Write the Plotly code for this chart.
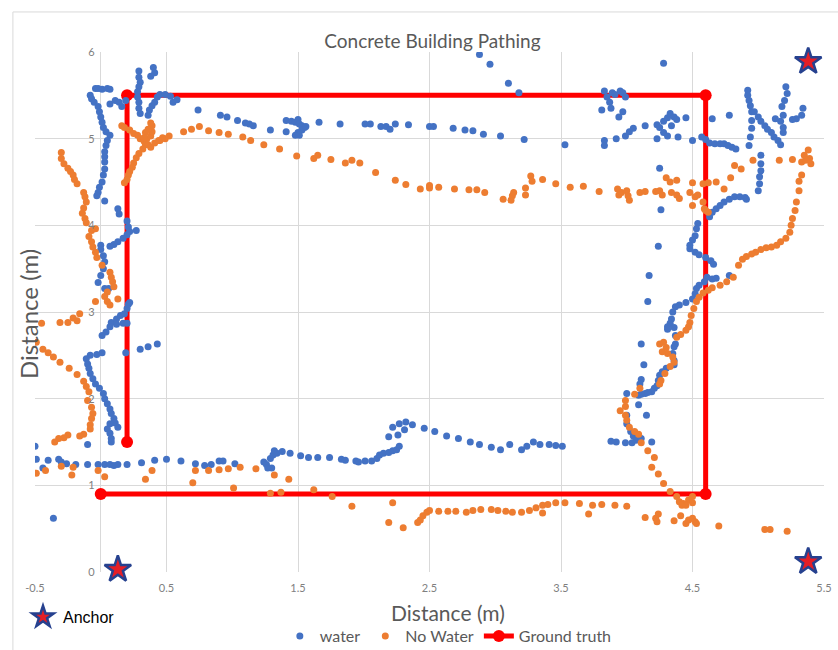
import plotly.graph_objects as go

# ---- measured positions (metres) ----
water_points = [
    # left wall, upper part
    (-0.04, 5.58), (-0.02, 5.58), (0.01, 5.57), (0.05, 5.58), (0.07, 5.57),
    (-0.08, 5.50), (-0.07, 5.46), (-0.05, 5.42), (-0.02, 5.37), (-0.01, 5.31), (0.00, 5.25),
    (0.01, 5.19), (0.02, 5.13), (0.04, 5.08), (0.07, 5.04), (0.05, 4.98), (0.04, 4.92),
    (0.03, 4.85), (0.03, 4.79), (0.03, 4.73), (0.03, 4.65), (0.02, 4.58), (0.01, 4.50),
    (-0.01, 4.44), (-0.02, 4.38), (-0.03, 4.34), (0.03, 4.28), (0.13, 4.19), (0.14, 4.13),
    (0.07, 5.40), (0.11, 5.44), (0.14, 5.42), (0.16, 5.37), (0.19, 5.44),
    (0.29, 5.78), (0.29, 5.71), (0.30, 5.65), (0.29, 5.60), (0.28, 5.54), (0.28, 5.48),
    (0.29, 5.42), (0.29, 5.35), (0.30, 5.29),
    (0.36, 5.27), (0.37, 5.33), (0.39, 5.38), (0.41, 5.42), (0.43, 5.48), (0.45, 5.51),
    (0.49, 5.51), (0.53, 5.49), (0.55, 5.42), (0.58, 5.45),
    (0.40, 5.82), (0.41, 5.76), (0.38, 5.72),
    # top wall
    (0.74, 5.33), (0.91, 5.27), (0.96, 5.25), (1.04, 5.21), (1.10, 5.18), (1.13, 5.17),
    (1.16, 5.15), (1.29, 5.10), (1.41, 5.21), (1.41, 5.08), (1.45, 5.20), (1.48, 5.19),
    (1.50, 5.22), (1.51, 5.17), (1.53, 5.15), (1.55, 5.13), (1.53, 5.10), (1.50, 5.07),
    (1.48, 5.04), (1.51, 5.04), (1.56, 5.14), (1.66, 5.19), (1.82, 5.17), (2.01, 5.17),
    (2.05, 5.17), (2.13, 5.14), (2.17, 5.14), (2.20, 5.11), (2.24, 5.17), (2.34, 5.16),
    (2.50, 5.14), (2.53, 5.14), (2.68, 5.12), (2.77, 5.10), (2.83, 5.09), (2.91, 5.05),
    (3.04, 5.03), (3.22, 4.99), (3.53, 4.93),
    (2.88, 5.97), (2.96, 5.86), (3.10, 5.64), (3.18, 5.53), (4.28, 5.87),
    # top-right corner
    (3.83, 5.55), (3.85, 5.48), (3.89, 5.53), (3.91, 5.51), (3.95, 5.55), (3.97, 5.53),
    (3.99, 5.48), (3.87, 5.42), (3.88, 5.35), (3.81, 5.33), (3.97, 5.31), (3.94, 5.25),
    (3.83, 4.98), (3.83, 4.92), (3.92, 5.00), (3.99, 5.03), (4.02, 5.08), (4.05, 5.12),
    (4.14, 5.15), (4.23, 5.16), (4.25, 5.13), (4.28, 5.20), (4.31, 5.24), (4.33, 5.29),
    (4.36, 5.25), (4.38, 5.22), (4.34, 5.15), (4.28, 5.07), (4.31, 5.03), (4.23, 5.00),
    (4.39, 5.02), (4.45, 5.24), (4.50, 4.98), (4.57, 5.02), (4.60, 4.99), (4.63, 4.95),
    (4.67, 4.94), (4.71, 4.94), (4.74, 4.94), (4.77, 4.92), (4.80, 4.90), (4.83, 4.88),
    (4.65, 5.23), (4.78, 5.27),
    (4.25, 4.66), (4.26, 4.18), (4.24, 3.76), (4.17, 3.42), (4.16, 3.12),
    (4.92, 5.56), (4.92, 5.50), (4.93, 5.44), (4.94, 5.38), (4.95, 5.31), (4.95, 5.21),
    (4.95, 5.12), (4.94, 5.02), (4.93, 4.92),
    (4.97, 5.31), (5.00, 5.25), (5.02, 5.20), (5.05, 5.15), (5.07, 5.11), (5.10, 5.07),
    (5.12, 5.02), (5.15, 4.98), (5.17, 4.93),
    (5.21, 5.60), (5.22, 5.52), (5.20, 5.44), (5.18, 5.37), (5.19, 5.27), (5.17, 5.20),
    (5.19, 5.13), (5.19, 5.07), (5.13, 5.23), (5.34, 5.35), (5.33, 5.27), (5.29, 5.23),
    (5.26, 5.22),
    # right wall
    (5.02, 4.81), (5.02, 4.71), (5.02, 4.63), (5.01, 4.56), (5.01, 4.48), (5.00, 4.40),
    (4.63, 4.10), (4.65, 4.15), (4.68, 4.19), (4.71, 4.23), (4.74, 4.27), (4.78, 4.30),
    (4.82, 4.33), (4.86, 4.33), (4.90, 4.32), (4.91, 4.30),
    (4.54, 4.02), (4.53, 3.96), (4.52, 3.88), (4.50, 3.83), (4.48, 3.77), (4.48, 3.73),
    (4.52, 3.69), (4.55, 3.66), (4.60, 3.63), (4.64, 3.59), (4.66, 3.55),
    (4.61, 3.40), (4.65, 3.38), (4.68, 3.39), (4.78, 3.42), (4.59, 3.35), (4.55, 3.31),
    (4.53, 3.27), (4.52, 3.21), (4.50, 3.15), (4.45, 3.11), (4.40, 3.08), (4.37, 3.06),
    (4.35, 3.00), (4.34, 2.92), (4.33, 2.87), (4.31, 2.83), (4.36, 2.82), (4.31, 2.80),
    (4.37, 2.73), (4.37, 2.63), (4.36, 2.60), (4.35, 2.52), (4.36, 2.44), (4.36, 2.39),
    (4.30, 2.35), (4.27, 2.31),
    (4.11, 2.63), (4.13, 2.39), (4.11, 2.22), (4.10, 2.17),
    (4.25, 2.27), (4.24, 2.21), (4.23, 2.15), (4.21, 2.12), (4.19, 2.08), (4.16, 2.07),
    (4.14, 2.06), (4.11, 2.05), (4.09, 2.04), (4.00, 2.06),
    (4.09, 1.93), (4.15, 1.81), (4.00, 1.81), (4.00, 1.71), (4.03, 1.62), (4.05, 1.57),
    (4.07, 1.52), (4.11, 1.54), (4.04, 1.49), (3.99, 1.49), (3.92, 1.50), (3.88, 1.51),
    (4.19, 1.50),
    # left wall, lower part
    (0.08, 2.88), (0.12, 2.92), (0.15, 2.96), (0.18, 2.98), (0.20, 3.04), (0.21, 3.09),
    (0.22, 3.11), (0.01, 2.73), (0.04, 2.77), (0.07, 2.83), (0.12, 2.86), (0.17, 2.87),
    (0.20, 2.87), (0.19, 2.53), (0.30, 2.57), (0.36, 2.60), (0.43, 2.63),
    (0.01, 2.53), (-0.03, 2.51), (-0.08, 2.50), (-0.11, 2.46), (-0.10, 2.40), (-0.09, 2.35),
    (-0.08, 2.29), (-0.06, 2.23), (-0.04, 2.17), (-0.01, 2.12), (0.02, 2.06), (0.03, 2.00),
    (0.05, 1.94), (0.07, 1.88), (0.08, 1.83), (0.10, 1.77), (0.11, 1.72), (0.13, 1.67),
    (0.07, 1.71), (0.05, 1.65), (0.07, 1.60), (0.08, 1.54), (0.08, 1.50),
    (0.20, 4.05), (0.21, 3.98), (0.22, 3.93), (0.27, 3.94), (0.20, 3.89), (0.17, 3.85),
    (0.13, 3.81), (0.10, 3.78), (0.07, 3.76), (0.00, 3.77), (0.00, 3.72), (0.02, 3.65),
    (0.03, 3.58), (0.02, 3.50), (0.00, 3.42), (-0.02, 3.34), (0.03, 3.27), (0.06, 3.27),
    # bottom wall
    (-0.50, 1.45), (-0.49, 1.30), (-0.44, 1.20), (-0.40, 1.29), (-0.32, 1.30), (-0.30, 1.27),
    (-0.26, 1.25), (-0.19, 1.24), (-0.10, 1.24), (-0.02, 1.24), (0.03, 1.24), (0.07, 1.24),
    (0.10, 1.23), (0.13, 1.24), (0.20, 1.24), (0.31, 1.26), (0.41, 1.29), (-0.10, 1.47),
    (-0.36, 0.62),
    (0.50, 1.30), (0.61, 1.28), (0.72, 1.25), (0.79, 1.23), (0.84, 1.24), (0.90, 1.28),
    (0.93, 1.28), (1.02, 1.25), (1.24, 1.27), (1.26, 1.24), (1.27, 1.20), (1.30, 1.20),
    (1.29, 1.31), (1.31, 1.35), (1.32, 1.40), (1.34, 1.37), (1.38, 1.39), (1.44, 1.37),
    (1.52, 1.34), (1.58, 1.32), (1.65, 1.32), (1.74, 1.32), (1.83, 1.30), (1.86, 1.29),
    (1.94, 1.28), (1.96, 1.27), (2.01, 1.28), (2.06, 1.28), (2.10, 1.31), (2.12, 1.35),
    (2.15, 1.37), (2.19, 1.38), (2.22, 1.40), (2.25, 1.41), (2.27, 1.45), (2.19, 1.56),
    (2.22, 1.67), (2.26, 1.58), (2.27, 1.71), (2.31, 1.64), (2.32, 1.73), (2.37, 1.70),
    (2.46, 1.66), (2.54, 1.62), (2.63, 1.57), (2.72, 1.54), (2.81, 1.50), (2.88, 1.47),
    (2.97, 1.44), (3.04, 1.41), (3.11, 1.47), (3.20, 1.41), (3.24, 1.45), (3.29, 1.50),
    (3.34, 1.47), (3.41, 1.47), (3.46, 1.46), (3.51, 1.45),
]

no_water_points = [
    # left wall
    (-0.30, 4.84), (-0.30, 4.77), (-0.28, 4.71), (-0.25, 4.66), (-0.23, 4.62), (-0.21, 4.58),
    (-0.20, 4.53), (-0.18, 4.48), (-0.13, 4.38), (-0.12, 4.33), (-0.11, 4.27), (-0.13, 4.20),
    (-0.14, 4.14), (-0.12, 4.08), (-0.11, 4.03), (-0.04, 3.96), (-0.07, 3.94), (-0.09, 3.87),
    (-0.07, 3.81), (-0.06, 3.75), (-0.04, 3.69), (-0.03, 3.63), (0.01, 3.54), (0.07, 3.46),
    (0.08, 3.40), (0.09, 3.35), (0.10, 3.29), (0.05, 3.23), (0.03, 3.18), (0.05, 3.12),
    (0.07, 3.08), (0.13, 3.15), (-0.04, 3.12), (-0.16, 2.98), (-0.21, 2.93), (-0.25, 2.88),
    (-0.31, 2.88), (-0.45, 2.87), (-0.18, 2.90),
    (0.16, 5.15), (0.18, 5.13), (0.22, 5.10), (0.25, 5.06), (0.28, 5.04), (0.30, 5.00),
    (0.33, 4.97), (0.35, 5.00), (0.38, 5.03), (0.39, 5.08), (0.39, 5.15), (0.38, 5.18),
    (0.36, 5.11), (0.34, 5.07), (0.33, 5.01), (0.34, 4.93), (0.32, 4.88), (0.29, 4.83),
    (0.27, 4.78), (0.25, 4.72), (0.24, 4.67), (0.22, 4.62), (0.21, 4.58), (0.20, 4.53),
    (0.18, 4.49), (0.36, 4.93), (0.38, 4.90), (0.41, 4.95), (0.44, 4.98), (0.47, 5.01),
    (-0.49, 2.65), (-0.44, 2.57), (-0.40, 2.53), (-0.36, 2.48), (-0.31, 2.42), (-0.24, 2.35),
    (-0.18, 2.28), (-0.13, 2.20), (-0.11, 2.14), (-0.09, 2.08), (-0.10, 1.98), (-0.07, 1.90),
    (-0.06, 1.83), (-0.07, 1.77), (-0.08, 1.70), (-0.08, 1.65), (-0.13, 1.59), (-0.16, 1.57),
    (-0.25, 1.58), (-0.28, 1.55), (-0.32, 1.54), (-0.35, 1.50),
    # top wall
    (0.45, 4.98), (0.49, 5.00), (0.52, 5.03), (0.63, 5.08), (0.69, 5.11), (0.75, 5.14),
    (0.82, 5.09), (0.90, 5.07), (0.97, 5.05), (1.08, 5.02), (1.14, 4.98), (1.24, 4.93),
    (1.36, 4.88), (1.49, 4.80), (1.62, 4.77), (1.65, 4.81), (1.75, 4.76), (1.86, 4.72),
    (1.91, 4.75), (1.97, 4.72), (2.09, 4.61), (2.24, 4.52), (2.32, 4.47), (2.43, 4.42),
    (2.50, 4.43), (2.50, 4.46), (2.57, 4.44), (2.69, 4.42), (2.80, 4.41), (2.86, 4.41),
    (2.92, 4.38), (3.06, 4.30), (3.12, 4.29), (3.13, 4.34), (3.14, 4.38), (3.23, 4.43),
    (3.23, 4.35), (3.27, 4.57), (3.28, 4.51), (3.36, 4.53), (3.46, 4.48), (3.57, 4.44),
    (3.67, 4.45), (3.79, 4.39), (3.93, 4.42), (3.94, 4.35), (3.96, 4.38), (4.00, 4.40),
    (4.02, 4.29), (4.01, 4.34), (4.10, 4.38), (4.14, 4.39), (4.22, 4.39), (4.25, 4.40),
    (4.27, 4.35), (4.30, 4.55), (4.33, 4.50), (4.38, 4.52), (4.34, 4.38), (4.38, 4.35),
    (4.40, 4.31), (4.48, 4.38), (4.50, 4.49), (4.52, 4.33), (4.54, 4.35), (4.50, 4.23),
    (4.58, 4.27), (4.59, 4.19), (4.60, 4.17), (4.62, 4.15), (4.58, 4.48), (4.62, 4.49),
    (4.68, 4.50), (4.74, 4.42), (4.79, 4.55), (4.82, 4.69), (4.87, 4.65), (4.96, 4.75),
    (5.16, 4.75), (5.26, 4.76), (5.33, 4.73), (5.35, 4.81), (5.38, 4.87), (5.39, 4.77),
    (5.40, 4.71), (5.36, 4.75),
    # right wall
    (5.33, 4.58), (5.31, 4.51), (5.31, 4.40), (5.29, 4.27), (5.28, 4.17), (5.26, 4.08),
    (5.25, 4.00), (5.24, 3.92), (5.21, 3.85), (5.17, 3.81), (5.14, 3.77), (5.10, 3.75),
    (5.06, 3.74), (5.02, 3.72), (4.98, 3.69), (4.95, 3.67), (4.91, 3.64), (4.88, 3.61),
    (4.85, 3.54), (4.81, 3.40), (4.76, 3.35), (4.71, 3.31), (4.65, 3.28), (4.62, 3.25),
    (4.58, 3.22), (4.55, 3.17), (4.53, 3.12), (4.51, 3.04), (4.49, 2.96), (4.48, 2.88),
    (4.47, 2.83), (4.45, 2.79), (4.41, 2.74), (4.38, 2.71),
    (4.25, 2.63), (4.28, 2.65), (4.30, 2.59), (4.31, 2.52), (4.27, 2.54), (4.35, 2.48),
    (4.36, 2.42), (4.33, 2.37), (4.29, 2.29), (4.26, 2.21), (4.25, 2.17), (4.10, 2.12),
    (4.06, 2.05), (3.99, 1.98), (3.99, 1.91), (3.95, 1.86), (3.99, 1.81), (4.00, 1.75),
    (4.02, 1.67), (4.06, 1.62), (4.09, 1.59), (4.11, 1.49), (4.16, 1.40), (4.21, 1.32),
    (4.19, 1.21), (4.24, 1.13), (4.28, 1.02), (4.33, 0.93), (4.38, 0.87), (4.40, 0.81),
    (4.43, 0.79), (4.47, 0.83), (4.50, 0.80), (4.50, 0.87), (4.42, 0.77), (4.45, 0.77),
    # bottom wall
    (-0.49, 1.14), (-0.42, 1.17), (-0.30, 1.22), (-0.21, 1.21), (-0.22, 1.12), (-0.02, 1.17),
    (0.03, 1.10), (0.34, 1.07), (0.39, 1.17),
    (0.70, 1.03), (0.72, 1.17), (0.82, 1.17), (0.90, 1.18), (0.97, 1.19), (1.01, 0.97),
    (1.06, 1.21), (1.18, 1.19), (1.29, 0.91), (1.32, 1.12), (1.37, 0.92), (1.43, 1.07),
    (1.62, 0.95), (1.76, 0.87), (1.91, 0.76), (2.22, 0.80), (2.19, 0.57), (2.30, 0.51),
    (2.41, 0.57), (2.43, 0.60), (2.45, 0.65), (2.48, 0.69), (2.50, 0.71), (2.57, 0.70),
    (2.64, 0.70), (2.70, 0.70), (2.78, 0.69), (2.83, 0.71), (2.89, 0.72), (2.97, 0.72),
    (3.02, 0.71), (3.08, 0.70), (3.13, 0.69), (3.20, 0.69), (3.26, 0.71), (3.31, 0.74),
    (3.36, 0.77), (3.36, 0.68), (3.40, 0.78), (3.46, 0.80), (3.53, 0.80), (3.64, 0.79),
    (3.71, 0.67), (3.74, 0.77), (3.81, 0.78), (3.91, 0.77), (4.00, 0.76), (4.14, 0.63),
    (4.22, 0.62), (4.24, 0.67), (4.23, 0.58), (4.36, 0.59), (4.41, 0.65), (4.45, 0.56),
    (4.47, 0.60), (4.50, 0.62), (4.52, 0.58), (4.53, 0.56), (4.70, 0.53), (5.05, 0.49),
    (5.09, 0.49), (5.22, 0.47),
]

truth_x = [0.2, 0.2, 4.6, 4.6, 0.0]
truth_y = [1.5, 5.5, 5.5, 0.9, 0.9]

anchor_x = [0.13, 5.38, 5.38]
anchor_y = [0.03, 5.89, 0.12]

x_ticks = [-0.5, 0.5, 1.5, 2.5, 3.5, 4.5, 5.5]
x_tick_text = ["-0.5", "0.5", "1.5", "2.5", "3.5", "4.5", "5.5"]
y_ticks = [0, 1, 2, 3, 4, 5, 6]

FONT = "Lato, 'Open Sans', sans-serif"
GRID = "#D9D9D9"
TEXT = "#595959"

water_x, water_y = zip(*water_points)
nw_x, nw_y = zip(*no_water_points)

fig = go.Figure()

fig.add_trace(go.Scatter(
    x=truth_x, y=truth_y, mode="lines+markers", name="Ground truth",
    line=dict(color="#FF0000", width=5),
    marker=dict(color="#FF0000", size=12),
    legendrank=3,
))
fig.add_trace(go.Scatter(
    x=water_x, y=water_y, mode="markers", name="water",
    marker=dict(color="#4472C4", size=7),
    legendrank=1,
))
fig.add_trace(go.Scatter(
    x=nw_x, y=nw_y, mode="markers", name="No Water",
    marker=dict(color="#ED7D31", size=7),
    legendrank=2,
))
fig.add_trace(go.Scatter(
    x=anchor_x, y=anchor_y, mode="markers", name="Anchor",
    marker=dict(symbol="star", size=20, color="#E41E26",
                line=dict(color="#26418F", width=2.5)),
    cliponaxis=False,
    legend="legend2",
))

fig.update_layout(
    width=838, height=650,
    margin=dict(l=35, r=14, t=52, b=78, autoexpand=False),
    paper_bgcolor="white", plot_bgcolor="white",
    font=dict(family=FONT, color=TEXT),
    title=dict(text="Concrete Building Pathing", x=0.516, xanchor="center",
               y=0.937, yanchor="middle", font=dict(size=19, color=TEXT, family=FONT)),
    xaxis=dict(range=[-0.5, 5.5], tickvals=x_ticks, ticktext=x_tick_text,
               showgrid=True, gridcolor=GRID, gridwidth=1.2,
               zeroline=True, zerolinecolor=GRID, zerolinewidth=1.2,
               showline=False, ticks="", ticklabelstandoff=8,
               tickfont=dict(size=11, color="#7F7F7F", family=FONT)),
    yaxis=dict(range=[0, 6], tickvals=y_ticks, anchor="free", position=1 / 12,
               showgrid=True, gridcolor=GRID, gridwidth=1.2,
               zeroline=False, showline=False, ticks="", ticklabelstandoff=6,
               tickfont=dict(size=11, color="#7F7F7F", family=FONT)),
    showlegend=True,
    legend=dict(orientation="h", xref="container", yref="container",
                x=0.535, xanchor="center", y=0.0215, yanchor="middle",
                font=dict(size=16, color=TEXT, family=FONT), bgcolor="rgba(0,0,0,0)"),
    legend2=dict(xref="container", yref="container",
                 x=23 / 838, xanchor="left", y=1 - 617 / 650, yanchor="middle",
                 font=dict(size=16, color="black", family="'Liberation Sans', Arial, sans-serif"),
                 bgcolor="rgba(0,0,0,0)"),
    shapes=[dict(type="rect", xref="paper", yref="paper",
                 x0=-0.028, x1=1.2, y0=-0.4, y1=1.077,
                 line=dict(color=GRID, width=1), fillcolor="rgba(0,0,0,0)", layer="below")],
    annotations=[
        dict(text="Distance (m)", xref="paper", yref="paper", x=0.523, y=-0.077,
             xanchor="center", yanchor="middle", showarrow=False,
             font=dict(size=21, color=TEXT, family=FONT)),
        dict(text="Distance (m)", xref="paper", yref="paper", x=-0.009, y=0.496,
             xanchor="center", yanchor="middle", textangle=-90, showarrow=False,
             font=dict(size=24, color=TEXT, family=FONT)),
    ],
)

fig.write_html("out.html")
